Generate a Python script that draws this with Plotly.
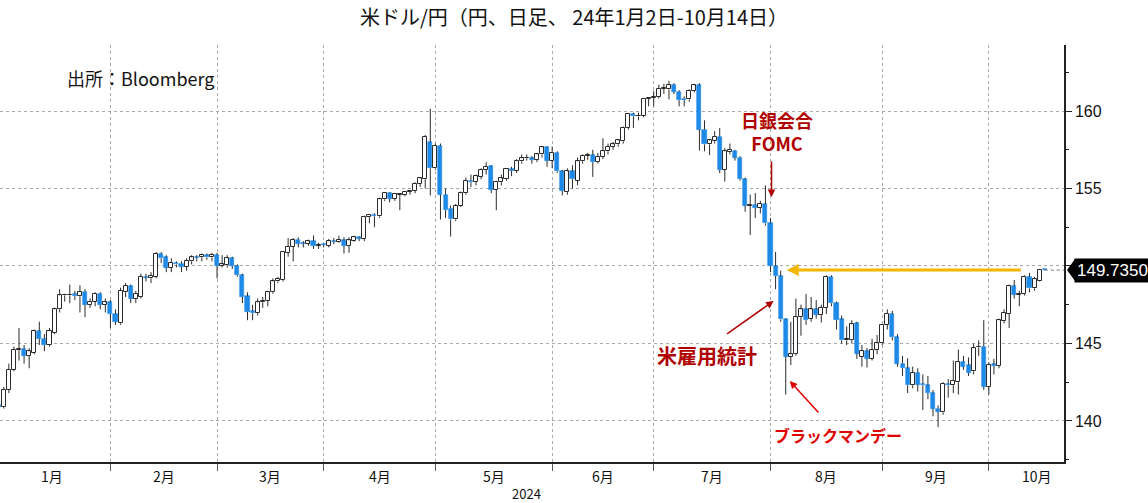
import plotly.graph_objects as go
import pandas as pd

# ---------------- data (USD/JPY daily) ----------------
dates = pd.bdate_range("2024-01-01", "2024-10-15")

opens = [141.0, 140.9, 142.0, 143.3, 144.6, 144.65, 144.2, 144.4, 145.8, 145.3, 144.9, 145.7, 147.2, 148.1, 148.1, 148.2, 148.05, 148.35, 147.5, 147.7, 148.2, 147.5, 147.65,
         146.9, 146.3, 148.3, 148.7, 147.9, 148.0, 149.3, 149.2, 149.3, 150.8, 150.55, 149.9, 150.2, 150.15, 149.95, 150.3, 150.55, 150.55, 150.7, 150.55, 150.7,
         150.0, 150.05, 150.5, 150.0, 149.4, 148.05, 147.1, 146.95, 147.65, 147.75, 148.3, 149.0, 149.1, 150.85, 151.25, 151.7, 151.45, 151.45, 151.6, 151.3, 151.45,
         151.3, 151.6, 151.55, 151.65, 151.3, 151.6, 151.85, 151.75, 153.15, 153.3, 153.2, 154.3, 154.7, 154.35, 154.6, 154.6, 154.8, 154.85, 155.3, 155.6, 158.0, 156.3,
         157.75, 154.6, 153.7, 153.0, 153.9, 154.7, 155.5, 155.45, 155.75, 156.2, 156.45, 154.9, 155.4, 155.6, 156.25, 156.15, 156.75, 156.95, 156.95, 156.85, 157.2, 157.65, 156.8,
         157.3, 156.1, 154.8, 156.1, 155.5, 156.75, 157.1, 157.15, 156.7, 157.05, 157.4, 157.7, 157.85, 158.05, 158.9, 159.8, 159.65, 159.7, 160.8, 160.85,
         160.9, 161.45, 161.4, 161.7, 161.25, 160.8, 160.75, 161.3, 161.65, 158.8, 157.85, 158.05, 158.35, 156.2, 157.35, 157.45, 157.0, 155.6, 153.9, 153.95, 153.75, 154.0, 152.75,
         150.0, 149.35, 146.55, 144.15, 144.3, 146.7, 147.2, 146.6, 147.2, 146.85, 147.3, 149.3, 147.6, 146.55, 145.2, 145.2, 146.3, 144.15, 144.5, 144.0, 144.6, 145.0,
         146.2, 146.9, 145.4, 143.7, 143.4, 142.3, 143.1, 142.4, 142.3, 141.8, 140.8, 140.55, 142.4, 142.3, 142.5, 143.8, 143.6, 143.2, 144.75, 144.8, 142.2,
         143.65, 143.55, 146.45, 146.9, 148.7, 148.15, 148.2, 149.3, 148.55, 149.05, 149.76]
highs = [141.1, 142.2, 143.7, 144.8, 146.0, 144.9, 144.7, 145.9, 146.4, 145.6, 146.0, 147.3, 148.5, 148.2, 148.8, 148.4, 148.75, 148.5, 147.9, 148.3, 148.3, 147.9, 147.8,
         147.2, 148.6, 148.9, 148.8, 148.4, 149.5, 149.5, 149.6, 150.9, 150.9, 150.7, 150.5, 150.3, 150.3, 150.5, 150.7, 150.7, 150.8, 150.8, 150.85, 150.85,
         150.7, 150.7, 150.6, 150.1, 149.5, 148.3, 147.5, 147.9, 148.0, 148.4, 149.2, 149.3, 150.95, 151.8, 151.8, 151.85, 151.6, 151.7, 151.97, 151.5, 151.5,
         151.75, 151.8, 151.95, 151.85, 151.85, 151.95, 151.9, 153.25, 153.35, 153.4, 154.4, 154.75, 154.75, 154.7, 154.7, 154.85, 154.9, 155.4, 155.75, 158.45, 160.15, 157.9,
         157.9, 155.0, 153.9, 154.0, 154.8, 155.7, 155.9, 155.9, 156.3, 156.7, 156.5, 155.5, 155.9, 156.3, 156.4, 156.9, 157.2, 157.2, 157.1, 157.3, 157.7, 157.7, 157.7,
         157.4, 156.2, 156.3, 156.5, 157.0, 157.2, 157.3, 157.5, 157.3, 158.25, 157.9, 158.0, 158.2, 159.0, 159.85, 159.9, 159.9, 160.85, 160.9, 161.3,
         161.7, 161.75, 161.95, 161.8, 161.35, 160.95, 161.4, 161.75, 161.8, 159.4, 158.2, 158.7, 158.9, 157.6, 157.9, 157.5, 157.1, 155.7, 154.6, 154.7, 154.2, 155.2, 153.1,
         150.9, 149.7, 146.6, 146.4, 147.9, 147.5, 148.2, 148.0, 147.8, 147.5, 149.4, 149.4, 147.7, 146.8, 146.1, 146.5, 146.4, 144.9, 144.7, 145.3, 145.55, 146.25,
         147.2, 147.1, 145.6, 144.2, 144.05, 143.5, 143.4, 143.0, 142.9, 142.0, 141.0, 142.5, 142.7, 143.9, 144.6, 144.2, 144.1, 145.0, 145.2, 146.5, 143.8,
         144.0, 146.6, 147.2, 148.8, 149.1, 148.4, 149.4, 149.55, 149.3, 149.8, 149.78]
lows = [140.9, 140.8, 141.8, 143.2, 143.9, 143.7, 143.4, 144.3, 144.9, 144.5, 144.8, 145.6, 147.0, 147.7, 147.6, 147.8, 147.0, 146.7, 147.3, 147.4, 147.2, 147.0, 146.0,
        146.2, 146.2, 148.0, 147.6, 147.6, 147.9, 149.0, 148.9, 149.2, 150.2, 149.6, 149.6, 149.9, 149.6, 149.7, 150.1, 150.3, 150.3, 150.4, 150.3, 149.2,
        149.9, 149.9, 149.8, 149.3, 147.6, 146.5, 146.5, 146.8, 147.3, 147.4, 148.2, 148.9, 149.0, 150.6, 150.3, 151.2, 151.2, 151.3, 151.1, 151.1, 151.2,
        151.2, 151.4, 151.5, 150.8, 150.85, 151.55, 151.6, 151.6, 152.75, 152.5, 153.1, 154.2, 154.1, 154.2, 153.6, 154.5, 154.6, 154.7, 155.1, 155.0, 154.55, 156.2,
        153.0, 153.1, 151.9, 152.9, 153.8, 154.6, 155.1, 155.2, 155.6, 155.9, 154.7, 153.6, 155.2, 155.5, 155.8, 156.0, 156.6, 156.8, 156.6, 156.7, 157.0, 156.4, 156.3,
        156.0, 154.55, 154.6, 155.0, 155.2, 156.6, 156.85, 155.75, 156.6, 156.9, 157.2, 157.5, 157.7, 157.9, 158.8, 158.9, 159.4, 159.6, 160.3, 160.3,
        160.8, 161.1, 160.75, 161.1, 160.3, 160.3, 160.6, 161.2, 157.45, 157.4, 157.15, 157.9, 156.0, 155.45, 157.2, 156.8, 155.5, 153.5, 152.0, 153.1, 153.4, 152.6, 149.6,
        148.5, 146.4, 141.7, 143.6, 144.2, 145.5, 146.2, 146.4, 146.6, 146.35, 146.9, 147.4, 145.9, 145.0, 144.9, 145.0, 144.0, 143.5, 143.45, 143.9, 144.3, 144.9,
        145.9, 145.2, 143.5, 142.9, 141.8, 142.1, 141.9, 140.7, 141.4, 140.3, 139.6, 140.4, 141.5, 141.8, 141.7, 143.3, 142.9, 143.0, 144.2, 142.0, 141.7,
        143.0, 143.4, 146.3, 146.0, 147.9, 147.4, 148.1, 148.3, 148.4, 149.0, 149.72]
closes = [140.9, 142.0, 143.3, 144.6, 144.65, 144.2, 144.5, 145.8, 145.3, 144.9, 145.8, 147.2, 148.1, 148.15, 148.12, 148.05, 148.35, 147.5, 147.7, 148.2, 147.5, 147.65, 146.9,
          146.4, 148.4, 148.7, 147.9, 148.2, 149.3, 149.25, 149.35, 150.8, 150.5, 149.9, 150.2, 150.1, 149.95, 150.35, 150.55, 150.5, 150.7, 150.55, 150.7, 150.0,
          150.1, 150.5, 150.0, 149.4, 148.0, 147.05, 146.95, 147.65, 147.75, 148.3, 149.0, 149.15, 150.9, 151.25, 151.7, 151.45, 151.42, 151.6, 151.3, 151.35, 151.35,
          151.6, 151.55, 151.7, 151.3, 151.65, 151.85, 151.75, 153.15, 153.3, 153.2, 154.3, 154.7, 154.35, 154.65, 154.62, 154.8, 154.85, 155.3, 155.65, 158.35, 156.3, 157.75,
          154.6, 153.6, 153.0, 153.9, 154.7, 155.5, 155.4, 155.8, 156.2, 156.4, 154.9, 155.45, 155.65, 156.25, 156.15, 156.8, 156.95, 157.0, 156.85, 157.2, 157.65, 156.8, 157.3,
          156.1, 154.85, 156.1, 155.6, 156.75, 157.1, 157.15, 156.7, 157.05, 157.4, 157.7, 157.85, 158.1, 158.9, 159.8, 159.65, 159.7, 160.8, 160.85, 160.9,
          161.45, 161.5, 161.7, 161.25, 160.7, 160.7, 161.3, 161.65, 158.8, 157.85, 158.1, 158.35, 156.2, 157.4, 157.5, 157.0, 155.6, 153.9, 153.95, 153.75, 154.0, 152.75, 150.0,
          149.35, 146.55, 144.15, 144.3, 146.7, 147.2, 146.5, 147.2, 146.85, 147.3, 149.3, 147.6, 146.5, 145.2, 145.3, 146.25, 144.35, 144.5, 144.0, 144.6, 145.0, 146.2,
          146.9, 145.4, 143.7, 143.4, 142.3, 143.1, 142.35, 142.3, 141.8, 140.8, 140.6, 142.4, 142.3, 142.6, 143.8, 143.5, 143.1, 144.7, 144.8, 142.2, 143.6,
          143.55, 146.5, 146.95, 148.7, 148.15, 148.2, 149.3, 148.55, 149.15, 149.74, 149.735]

last_price = 149.735
month_labels = ["1月", "2月", "3月", "4月", "5月", "6月", "7月", "8月", "9月", "10月"]
year_label = "2024"
title_text = "米ドル/円（円、日足、 24年1月2日-10月14日）"
source_text = "出所：Bloomberg"
y_ticks = [140, 145, 150, 155, 160]
# 150 label is hidden behind the last-price box in the reference
y_ticktext = ["140", "145", "", "155", "160"]

# ---------------- derived ----------------
n = len(dates)
xs = list(range(n))
months = list(dates.month)
last_idx = [max(i for i in xs if months[i] == m) for m in range(1, 10)]
bounds = [-1] + last_idx
label_pos = [(bounds[k] + bounds[k + 1]) / 2 for k in range(9)] + [204.5]

BLUE = "#1E8AE8"
DARK = "#2b2b2b"

up_x, up_base, up_h, dn_x, dn_base, dn_h = [], [], [], [], [], []
for i, o, c in zip(xs, opens, closes):
    lo, hi = min(o, c), max(o, c)
    h = max(hi - lo, 0.04)
    if c >= o:
        up_x.append(i); up_base.append(lo); up_h.append(h)
    else:
        dn_x.append(i); dn_base.append(lo); dn_h.append(h)

wx, wy = [], []
for i, o, h, l, c in zip(xs, opens, highs, lows, closes):
    wx += [i, i, None, i, i, None]
    wy += [max(o, c), h, None, min(o, c), l, None]

fig = go.Figure()
fig.add_trace(go.Bar(x=dn_x, y=dn_h, base=dn_base, width=0.8,
                     marker=dict(color=BLUE, line=dict(color=BLUE, width=0.6)),
                     showlegend=False, hoverinfo="skip"))
fig.add_trace(go.Bar(x=up_x, y=up_h, base=up_base, width=0.8,
                     marker=dict(color="white", line=dict(color=DARK, width=1)),
                     showlegend=False, hoverinfo="skip"))
fig.add_trace(go.Scatter(x=wx, y=wy, mode="lines", line=dict(color=DARK, width=1),
                         showlegend=False, hoverinfo="skip", connectgaps=False))

# last price dotted line
fig.add_shape(type="line", xref="x", yref="y", x0=xs[-1], x1=209.8,
              y0=last_price, y1=last_price, line=dict(color="#777", width=1, dash="dot"))

JP = "Noto Sans CJK JP"
annots = []
for lab, p in zip(month_labels, label_pos):
    annots.append(dict(x=p, y=0, xref="x", yref="paper", yanchor="top", yshift=-2,
                       text=lab, showarrow=False, font=dict(family=JP, size=14, color="#111")))
annots.append(dict(x=0.495, y=0, xref="paper", yref="paper", yanchor="top", yshift=-20,
                   text=year_label, showarrow=False, font=dict(family=JP, size=13, color="#111")))
annots.append(dict(x=0.061, y=0.921, xref="paper", yref="paper", xanchor="left", yanchor="middle",
                   text=source_text, showarrow=False, font=dict(family=JP, size=18, color="#111")))
RED = "#B00000"
annots.append(dict(x=153.2, y=158.7, xref="x", yref="y", text="<b>日銀会合<br>FOMC</b>",
                   showarrow=False, font=dict(family=JP, size=18, color=RED)))
annots.append(dict(x=152.2, y=154.45, xref="x", yref="y", ax=0, ay=-37, text="",
                   showarrow=True, arrowhead=2, arrowsize=1, arrowwidth=1.5, arrowcolor=RED))
annots.append(dict(x=139.4, y=144.2, xref="x", yref="y", text="<b>米雇用統計</b>",
                   showarrow=False, font=dict(family=JP, size=20, color=RED)))
annots.append(dict(x=152.6, y=147.74, xref="x", yref="y", ax=-48, ay=34, text="",
                   showarrow=True, arrowhead=2, arrowsize=1, arrowwidth=1.5, arrowcolor=RED))
annots.append(dict(x=165.2, y=139.1, xref="x", yref="y", text="<b>ブラックマンデー</b>",
                   showarrow=False, font=dict(family=JP, size=16, color="#E00000")))
annots.append(dict(x=155.8, y=142.58, xref="x", yref="y", ax=30, ay=33, text="",
                   showarrow=True, arrowhead=2, arrowsize=1, arrowwidth=1.5, arrowcolor="#E00000"))
annots.append(dict(x=155.2, y=last_price, xref="x", yref="y", ax=201.6, ay=last_price,
                   axref="x", ayref="y", text="", showarrow=True, arrowhead=2, arrowsize=0.8,
                   arrowwidth=3, arrowcolor="#F2B600"))
annots.append(dict(x=1, y=last_price, xref="paper", yref="y", xanchor="left", xshift=10,
                   text="149.7350", showarrow=False, bgcolor="black", borderpad=2,
                   font=dict(family="Liberation Sans", size=17, color="white")))

fig.add_shape(type="path", xref="paper", yref="y", xsizemode="pixel", ysizemode="pixel",
              xanchor=1, yanchor=last_price, path="M 3 0 L 11 -11 L 11 11 Z",
              fillcolor="black", line=dict(width=0))

fig.update_layout(
    width=1148, height=503,
    margin=dict(l=0, r=84, t=45, b=41),
    paper_bgcolor="white", plot_bgcolor="white",
    barmode="overlay", bargap=0,
    title=dict(text=title_text, x=0.5, xref="container", xanchor="center",
               y=0.964, yref="container", yanchor="middle",
               font=dict(family=JP, size=20, color="#111")),
    annotations=annots,
    xaxis=dict(range=[0.256, 209.8], tickvals=last_idx, ticktext=[""] * len(last_idx),
               ticks="outside", ticklen=7, tickcolor="#555", showgrid=True,
               gridcolor="#a8a8a8", griddash="dot", gridwidth=1,
               showline=True, linecolor="#222", linewidth=1.5, zeroline=False, fixedrange=True),
    yaxis=dict(range=[137.35, 164.26], side="right", tickvals=y_ticks, ticktext=y_ticktext,
               ticks="outside", ticklen=6, tickcolor="#222", showgrid=True,
               gridcolor="#a8a8a8", griddash="dot", gridwidth=1,
               showline=True, linecolor="#222", linewidth=1.5, zeroline=False,
               tickfont=dict(family="Liberation Sans", size=16, color="#111"),
               minor=dict(ticks="outside", ticklen=3, dtick=2.5, tick0=0, tickcolor="#222", showgrid=False)),
)

fig.write_html("out.html", config={"displayModeBar": False},
               post_script="document.body.style.margin='0';")
